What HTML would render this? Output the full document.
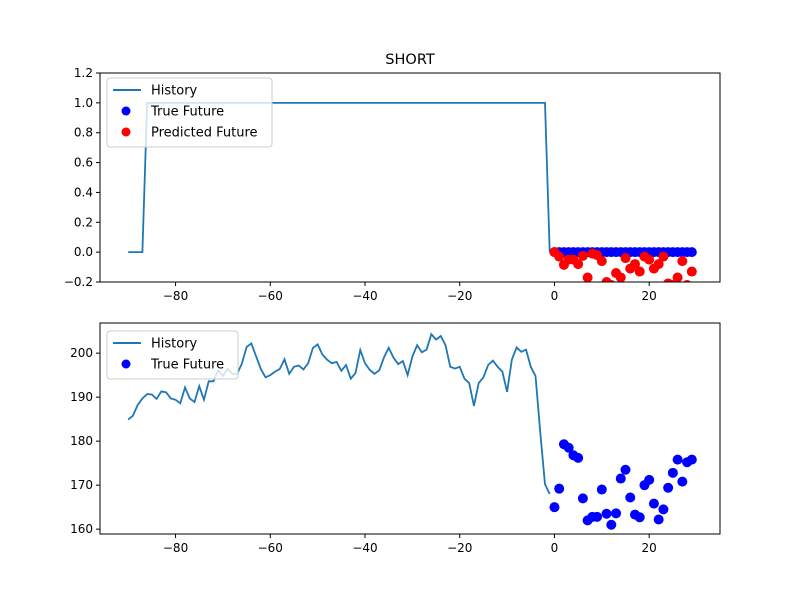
<!DOCTYPE html>
<html><head><meta charset="utf-8"><style>body{margin:0;background:#fff}svg{display:block;font-family:"DejaVu Sans","Liberation Sans",sans-serif}</style></head>
<body>
<svg id="c" width="800" height="600" xmlns="http://www.w3.org/2000/svg"></svg>
<script>
const topHistory=[0,0,0,0].concat(Array(85).fill(1)).concat([0]);
const topTrue=Array(30).fill(0);
const topPred=[0,-0.03,-0.085,-0.05,-0.05,-0.08,-0.025,-0.17,-0.01,-0.02,-0.06,-0.2,-0.22,-0.14,-0.17,-0.04,-0.11,-0.08,-0.13,-0.03,-0.05,-0.11,-0.08,-0.03,-0.21,-0.22,-0.17,-0.06,-0.22,-0.13];
const botHistory=[184.9,185.8,188.2,189.7,190.7,190.6,189.6,191.3,191.1,189.7,189.4,188.6,192.2,189.7,188.9,192.5,189.4,193.6,193.6,196.1,194.8,196.4,195.3,195.3,197.6,201.4,202.2,199.3,196.4,194.5,195,195.8,196.4,198.6,195.3,196.9,197.2,196.3,197.7,201.2,202,199.7,198.5,197.7,198,196,197.3,194.2,195.5,200.7,197.7,196.2,195.3,196.1,199,201.2,199,197.5,198.2,195,199.2,201.8,200.2,200.8,204.3,203.1,203.9,201.8,196.9,196.5,196.9,194.2,193.2,188,193.2,194.5,197.3,198.3,196.9,195.8,191.2,198.5,201.3,200.3,200.8,196.9,194.8,182,170.2,168];
const botTrue=[165,169.2,179.3,178.5,176.8,176.2,167,162,162.8,162.8,169,163.5,161,163.6,171.5,173.5,167.2,163.3,162.7,170,171.2,165.8,162.2,164.5,169.4,172.8,175.8,170.8,175.2,175.8];
const xTicks=[-80,-60,-40,-20,0,20];
const topYTicks=[-0.2,0,0.2,0.4,0.6,0.8,1.0,1.2];
const botYTicks=[160,170,180,190,200];
const NS="http://www.w3.org/2000/svg",svg=document.getElementById('c');
function el(t,a,p){const e=document.createElementNS(NS,t);for(const k in a)e.setAttribute(k,a[k]);(p||svg).appendChild(e);return e;}
const L=100,R=720;
const sx=v=>L+(v+95.95)/(130.9)*(R-L);
function panel(T,B,y0,y1,yt,fmt,hist,pts,name){
  const g=el('g',{});
  const sy=v=>B-(v-y0)/(y1-y0)*(B-T);
  const cid='clip'+name;const cp=el('clipPath',{id:cid},g);el('rect',{x:L,y:T,width:R-L,height:B-T},cp);
  const hx=hist.map((v,i)=>sx(i-90).toFixed(2)+','+sy(v).toFixed(2)).join(' ');
  const pl=el('polyline',{points:hx,fill:'none',stroke:'#1f77b4','stroke-width':1.8,'clip-path':`url(#${cid})`},g);
  
  pts.forEach(([arr,col,nm])=>arr.forEach((v,i)=>{const c=el('circle',{cx:sx(i),cy:sy(v),r:5,fill:col,'clip-path':`url(#${cid})`},g);
    }));
  el('rect',{x:L,y:T,width:R-L,height:B-T,fill:'none',stroke:'#000','stroke-width':1},g);
  xTicks.forEach(t=>{const x=sx(t);el('line',{x1:x,x2:x,y1:B,y2:B+4,stroke:'#000'},g);
    const tx=el('text',{x:x,y:B+18,'font-size':12,'text-anchor':'middle'},g);tx.textContent=(t<0?'\u2212'+(-t):t);
    });
  yt.forEach(t=>{const y=sy(t);el('line',{x1:L-4,x2:L,y1:y,y2:y,stroke:'#000'},g);
    const tx=el('text',{x:L-7,y:y+4,'font-size':12,'text-anchor':'end'},g);tx.textContent=fmt(t);
    });
}
panel(73,282,-0.2,1.2,topYTicks,t=>(t<0?'\u2212':'')+Math.abs(t).toFixed(1),topHistory,[[topTrue,'#0000ff','true-future-point'],[topPred,'#ff0000','predicted-future-point']],'top-panel');
panel(323,534,158.9,206.85,botYTicks,t=>String(t),botHistory,[[botTrue,'#0000ff','true-future-point']],'bottom-panel');
const ti=el('text',{x:410,y:64,'font-size':14.5,'text-anchor':'middle'});ti.textContent='SHORT';

function legend(x,y,w,items,name){const g=el('g',{});
  el('rect',{x:x,y:y,width:w,height:items.length*21+6,rx:3,fill:'#fff','fill-opacity':0.8,stroke:'#ccc'},g);
  items.forEach(([lab,kind,col],i)=>{const cy=y+12+i*21;
    if(kind==='line')el('line',{x1:x+6,x2:x+34,y1:cy,y2:cy,stroke:col,'stroke-width':2},g);
    else el('circle',{cx:x+19,cy:cy,r:4.5,fill:col},g);
    const t=el('text',{x:x+44,y:cy+4.5,'font-size':13},g);t.textContent=lab;
    });}
legend(107,78,165,[['History','line','#1f77b4'],['True Future','pt','#0000ff'],['Predicted Future','pt','#ff0000']],'top-legend');
legend(107,331,131,[['History','line','#1f77b4'],['True Future','pt','#0000ff']],'bottom-legend');
</script>
</body></html>
